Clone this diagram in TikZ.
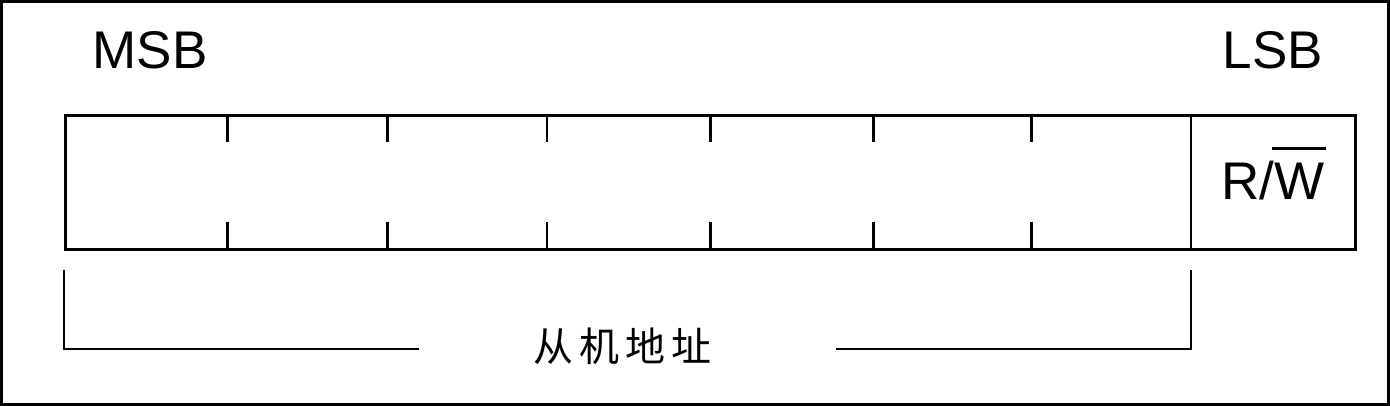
\documentclass[tikz,border=0pt]{standalone}
\usepackage{fontspec}
\setmainfont{Liberation Sans}
\newfontfamily\cjk{Noto Sans CJK SC}
\begin{document}
\begin{tikzpicture}[x=1pt,y=-1pt,
  thickline/.style={line width=3pt},
  thinline/.style={line width=1.5pt},
  lbl/.style={inner sep=0pt,font=\fontsize{53}{53}\selectfont}]
\useasboundingbox (0,0) rectangle (1390,406);
\draw[thickline] (1.5,1.5) rectangle (1388.5,404.5);
% register box
\node[draw,thickline,minimum width=1290pt,minimum height=134pt,inner sep=0pt,anchor=north west] (box) at (64,114) {};
% bit dividers
\foreach \x/\w in {227/3,387/3,547/1.5,710/3,873/3,1031/3}{
  \coordinate (t\x) at (\x,114);
  \coordinate (b\x) at (\x,248);
  \draw[line width=\w pt] (t\x) -- ++(0,28);
  \draw[line width=\w pt] (b\x) -- ++(0,-26);
}
\coordinate (dt) at (1191,114);
\coordinate (db) at (1191,248);
\draw[thinline] (dt) -- (db);
% labels
\node[lbl] (msb) at (150,50) {MSB};
\node[lbl] (lsb) at (1273,50) {LSB};
\node[lbl,anchor=base] (rw) at (1273,200) {R/\hspace{-3pt}\rlap{\rule[50pt]{54pt}{3pt}}\hspace{3pt}W};
\node[inner sep=0pt,font=\cjk\fontsize{40}{40}\selectfont] (addr) at (622,346) {从\hspace{6pt}机\hspace{6pt}地\hspace{6pt}址};
% bracket
\coordinate (l0) at (64,270);
\coordinate (l1) at (64,349);
\coordinate (l2) at (419,349);
\coordinate (r0) at (1191,270);
\coordinate (r1) at (1191,349);
\coordinate (r2) at (836,349);
\draw[thinline] (l0) -- (l1) -- (l2);
\draw[thinline] (r0) -- (r1) -- (r2);
\end{tikzpicture}
\end{document}
